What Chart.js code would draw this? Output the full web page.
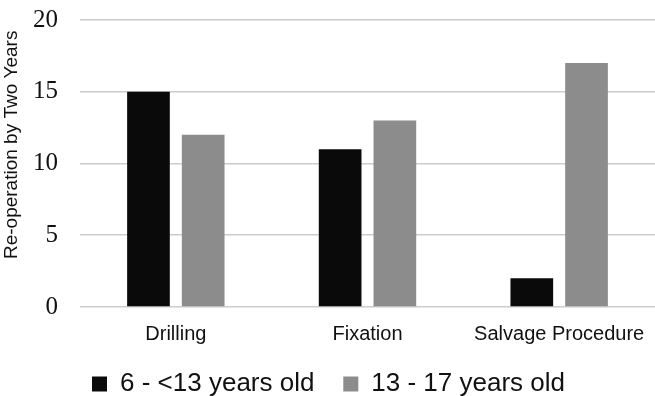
<!DOCTYPE html>
<html>
<head>
<meta charset="utf-8">
<script src="https://cdn.jsdelivr.net/npm/chart.js@4.4.0/dist/chart.umd.min.js"></script>
<style>
  html, body { margin: 0; padding: 0; background: #fff; }
  #wrap { width: 655px; height: 396px; position: relative; }
</style>
</head>
<body>
<div id="wrap"><canvas id="chart-reoperation"></canvas></div>
<script>
// data
const categories = ['Drilling', 'Fixation', 'Salvage Procedure'];
const youngerGroup = [15, 11, 2];   // 6 - <13 years old
const olderGroup = [12, 13, 17];    // 13 - 17 years old
const yTicks = [0, 5, 10, 15, 20];

const ctx = document.getElementById('chart-reoperation').getContext('2d');
const chartReoperation = new Chart(ctx, {
  type: 'bar',
  data: {
    labels: categories,
    datasets: [{
      label: '6 - <13 years old',
      data: youngerGroup,
      backgroundColor: '#0a0a0a',
      categoryPercentage: 0.571,
      barPercentage: 0.78
    }, {
      label: '13 - 17 years old',
      data: olderGroup,
      backgroundColor: '#8c8c8c',
      categoryPercentage: 0.571,
      barPercentage: 0.78
    }]
  },
  options: {
    responsive: true,
    maintainAspectRatio: false,
    animation: false,
    layout: {
      padding: { top: 20, right: -2, left: 0, bottom: -11 }
    },
    scales: {
      x: {
        afterFit: scale => { scale.height = 64; },
        // invisible tick marks give the gap between plot and labels
        grid: { display: false, drawTicks: true, tickLength: 15 },
        border: { display: false },
        ticks: {
          color: '#111',
          padding: 0,
          font: { family: 'Liberation Sans', size: 20 }
        }
      },
      y: {
        min: 0,
        max: 20,
        afterFit: scale => { scale.width = 80; },
        afterBuildTicks: scale => { scale.ticks = yTicks.map(v => ({ value: v })); },
        border: { display: false },
        grid: { color: '#cccccc', lineWidth: 1.6, drawTicks: true, tickLength: 22, tickColor: 'rgba(0,0,0,0)' },
        ticks: {
          color: '#111',
          padding: 0,
          font: { family: 'Liberation Serif', size: 25 }
        },
        title: {
          display: true,
          text: 'Re-operation by Two Years  ',
          align: 'end',
          color: '#111',
          padding: 0,
          font: { family: 'Liberation Sans', size: 19 }
        }
      }
    },
    plugins: {
      legend: {
        position: 'bottom',
        labels: {
          color: '#111',
          boxWidth: 15,
          boxHeight: 15,
          padding: 0,
          font: { family: 'Liberation Sans', size: 26 },
          // trailing spaces only widen the gap between the two items
          generateLabels: chart => Chart.defaults.plugins.legend.labels.generateLabels(chart)
            .map((item, i) => Object.assign(item, { text: i === 0 ? item.text + '    ' : item.text }))
        }
      },
      tooltip: { enabled: false }
    }
  }
});
</script>
</body>
</html>
